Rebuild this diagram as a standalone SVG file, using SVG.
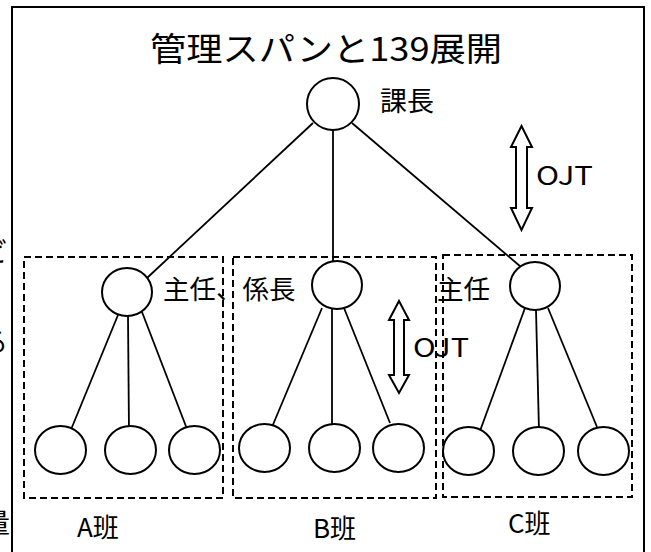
<svg xmlns="http://www.w3.org/2000/svg" width="651" height="552" viewBox="0 0 651 552">
<style>
.t{font-family:"Noto Sans CJK JP","Liberation Sans",sans-serif;fill:#000}
.n{fill:#fff;stroke:#000;stroke-width:2}
.c{stroke:#000;stroke-width:1.8;fill:none}
.g{fill:none;stroke:#000;stroke-width:2;stroke-dasharray:7 4}
.ar{fill:#fff;stroke:#000;stroke-width:2;stroke-linejoin:miter}
</style>
<rect width="651" height="552" fill="#fff"/>
<!-- stray clipped fragments from neighbouring page -->
<text class="t" x="-19" y="262" font-size="27">ビ</text>
<text class="t" x="-19" y="352" font-size="27">る</text>
<text class="t" x="-17" y="533" font-size="27">量</text>
<!-- outer frame -->
<path d="M12,560 V7 H644 V560" fill="none" stroke="#000" stroke-width="2"/>
<g id="title"><text class="t" x="150" y="61" font-size="33" textLength="352" lengthAdjust="spacingAndGlyphs">管理スパンと139展開</text></g>
<!-- group boxes -->
<g id="groupA"><rect class="g" x="24" y="257" width="199" height="241"/><text class="t" x="77" y="537" font-size="26">A班</text></g>
<g id="groupB"><rect class="g" x="233" y="257" width="203" height="241"/><text class="t" x="313" y="538" font-size="26">B班</text></g>
<g id="groupC"><rect class="g" x="443" y="255" width="189" height="242"/><text class="t" x="508" y="533" font-size="26">C班</text></g>
<g id="connectors">
<line class="c" x1="313" y1="123" x2="147" y2="278"/>
<line class="c" x1="333" y1="131" x2="333" y2="262"/>
<line class="c" x1="352" y1="123" x2="521" y2="267"/>
<line class="c" x1="118" y1="315" x2="70" y2="432"/>
<line class="c" x1="128" y1="316" x2="129" y2="433"/>
<line class="c" x1="142" y1="312" x2="187" y2="429"/>
<line class="c" x1="322" y1="308" x2="272" y2="427"/>
<line class="c" x1="332" y1="309" x2="332" y2="427"/>
<line class="c" x1="344" y1="308" x2="390" y2="423"/>
<line class="c" x1="525" y1="308" x2="480" y2="431"/>
<line class="c" x1="536" y1="310" x2="539" y2="431"/>
<line class="c" x1="548" y1="308" x2="597" y2="427"/>
</g>
<g id="kacho"><ellipse class="n" cx="333" cy="104" rx="26" ry="26"/><text class="t" x="380" y="111" font-size="27">課長</text></g>
<g id="shuninA"><ellipse class="n" cx="127" cy="292" rx="25" ry="24"/><text class="t" x="163" y="299" font-size="26.5">主任、係長</text></g>
<g id="kakaricho"><ellipse class="n" cx="337" cy="285" rx="25" ry="24"/></g>
<g id="shuninC"><ellipse class="n" cx="535" cy="286" rx="25" ry="24"/><text class="t" x="437" y="299" font-size="26.5">主任</text></g>
<g id="a1"><ellipse class="n" cx="60.5" cy="450" rx="25.5" ry="24"/></g>
<g id="a2"><ellipse class="n" cx="130.5" cy="450" rx="25.5" ry="24"/></g>
<g id="a3"><ellipse class="n" cx="194.5" cy="450" rx="25.5" ry="24"/></g>
<g id="b1"><ellipse class="n" cx="264.5" cy="448" rx="25.5" ry="24"/></g>
<g id="b2"><ellipse class="n" cx="334.5" cy="448" rx="25.5" ry="24"/></g>
<g id="b3"><ellipse class="n" cx="398.5" cy="448" rx="25.5" ry="24"/></g>
<g id="c1"><ellipse class="n" cx="468.5" cy="451" rx="25.5" ry="24"/></g>
<g id="c2"><ellipse class="n" cx="538.5" cy="451" rx="25.5" ry="24"/></g>
<g id="c3"><ellipse class="n" cx="603.5" cy="451" rx="25.5" ry="24"/></g>
<g id="ojt1">
<polygon class="ar" points="521.5,126 532,147 527,147 527,208 532,208 521.5,230 511,208 516,208 516,147 511,147"/>
<text class="t" x="536" y="185" font-size="25" textLength="57" lengthAdjust="spacingAndGlyphs">OJT</text>
</g>
<g id="ojt2">
<polygon class="ar" points="399,301 409,320 404,320 404,375 409,375 399,393 389,375 394,375 394,320 389,320"/>
<text class="t" x="413" y="357" font-size="25" textLength="56" lengthAdjust="spacingAndGlyphs">OJT</text>
</g>
</svg>
